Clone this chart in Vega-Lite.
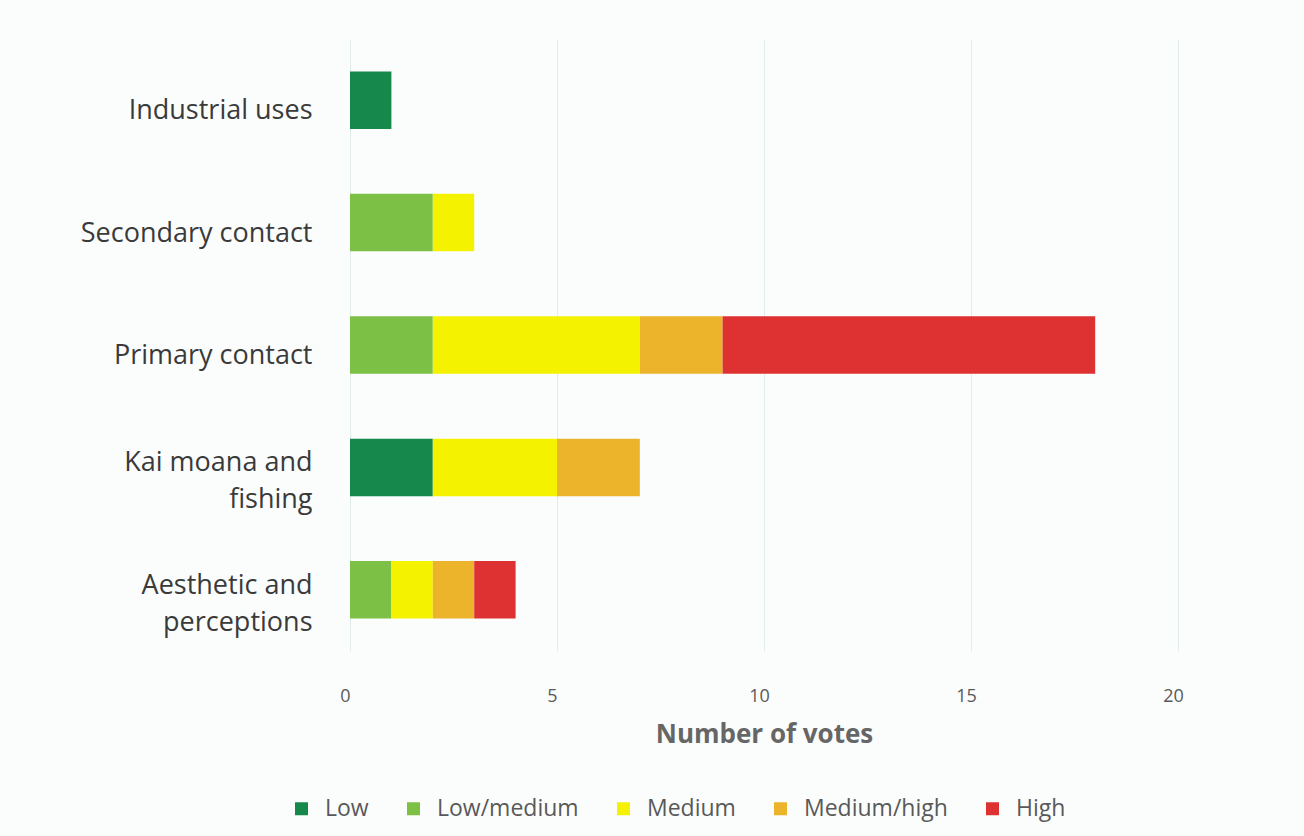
{
  "$schema": "https://vega.github.io/schema/vega-lite/v6.json",
  "autosize": {"type": "none"},
  "width": 828,
  "height": 612,
  "padding": {"left": 350, "top": 39, "right": 126, "bottom": 185},
  "background": "#fbfdfd",
  "config": {"view": {"stroke": null}, "font": "Open Sans"},
  "data": {"values": [
    {"use": "Industrial uses", "level": "Low", "rank": 1, "votes": 1},
    {"use": "Secondary contact", "level": "Low/medium", "rank": 2, "votes": 2},
    {"use": "Secondary contact", "level": "Medium", "rank": 3, "votes": 1},
    {"use": "Primary contact", "level": "Low/medium", "rank": 2, "votes": 2},
    {"use": "Primary contact", "level": "Medium", "rank": 3, "votes": 5},
    {"use": "Primary contact", "level": "Medium/high", "rank": 4, "votes": 2},
    {"use": "Primary contact", "level": "High", "rank": 5, "votes": 9},
    {"use": "Kai moana and fishing", "level": "Low", "rank": 1, "votes": 2},
    {"use": "Kai moana and fishing", "level": "Medium", "rank": 3, "votes": 3},
    {"use": "Kai moana and fishing", "level": "Medium/high", "rank": 4, "votes": 2},
    {"use": "Aesthetic and perceptions", "level": "Low/medium", "rank": 2, "votes": 1},
    {"use": "Aesthetic and perceptions", "level": "Medium", "rank": 3, "votes": 1},
    {"use": "Aesthetic and perceptions", "level": "Medium/high", "rank": 4, "votes": 1},
    {"use": "Aesthetic and perceptions", "level": "High", "rank": 5, "votes": 1}
  ]},
  "mark": {"type": "bar"},
  "encoding": {
    "y": {
      "field": "use", "type": "nominal",
      "sort": ["Industrial uses", "Secondary contact", "Primary contact", "Kai moana and fishing", "Aesthetic and perceptions"],
      "scale": {"paddingInner": 0.53, "paddingOuter": 0.265},
      "axis": {
        "title": null, "domain": false, "ticks": false,
        "labelFontSize": 27, "labelColor": "#3a3a3a", "labelPadding": 38,
        "labelOffset": {"condition": {"test": "indexof(datum.value, ' and ') >= 0", "value": -4}, "value": 11},
        "labelLimit": 400, "labelLineHeight": 37,
        "labelExpr": "datum.value == 'Kai moana and fishing' ? ['Kai moana and', 'fishing'] : datum.value == 'Aesthetic and perceptions' ? ['Aesthetic and', 'perceptions'] : datum.value"
      }
    },
    "x": {
      "field": "votes", "type": "quantitative", "aggregate": "sum", "stack": "zero",
      "scale": {"domain": [0, 20]},
      "axis": {
        "title": "Number of votes", "values": [0, 5, 10, 15, 20],
        "domain": false, "ticks": false, "grid": true, "gridColor": "#e3ecec",
        "labelFontSize": 18, "labelColor": "#595959", "labelPadding": 36, "labelFlush": false, "labelOffset": -5,
        "titleFontSize": 26, "titleFontWeight": "bold", "titleColor": "#666666", "titlePadding": 16
      }
    },
    "color": {
      "field": "level", "type": "nominal",
      "scale": {
        "domain": ["Low", "Low/medium", "Medium", "Medium/high", "High"],
        "range": ["#16884b", "#7cc146", "#f5f200", "#ebb42b", "#de3232"]
      },
      "legend": {
        "title": null, "orient": "none", "direction": "horizontal",
        "legendX": -60, "legendY": 758,
        "symbolType": "square", "symbolSize": 169, "symbolStrokeWidth": 0,
        "labelFontSize": 23, "labelColor": "#595959", "columnPadding": 33, "labelOffset": 12
      }
    },
    "order": {"field": "rank", "type": "quantitative"}
  }
}
